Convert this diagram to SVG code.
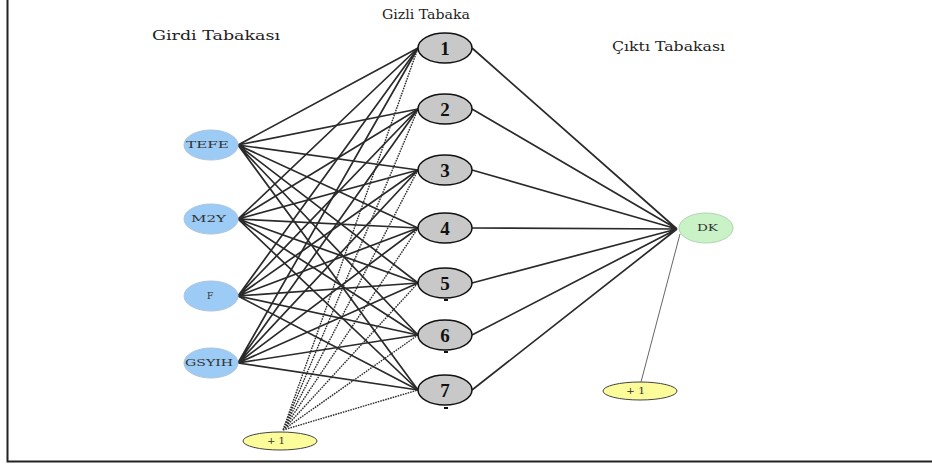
<svg xmlns="http://www.w3.org/2000/svg" width="932" height="466" viewBox="0 0 932 466">
<style>
.t{font-family:"DejaVu Serif","Liberation Serif",serif;fill:#222}
.lay{font-size:13px}
.in{font-size:9px;fill:#333}
.hid{font-family:"Liberation Serif","Times New Roman",serif;font-size:19px;font-weight:bold;fill:#111}
.e{stroke:#2a2a2a;stroke-width:1.7;fill:none}
.b{stroke:#2a2a2a;stroke-width:1.4;fill:none;stroke-dasharray:1.6 1}
.bo{stroke:#555;stroke-width:0.9;fill:none}
.inN{fill:#9ccbf5;stroke:#a9c4dc;stroke-width:1}
.hN{fill:#c8c8c8;stroke:#111;stroke-width:1.5}
.oN{fill:#c9f2c6;stroke:#b0d4ad;stroke-width:1}
.bN{fill:#fcfc9a;stroke:#444;stroke-width:1}
</style>
<rect width="932" height="466" fill="#fff"/>
<path d="M7.5 0 V461.5 H932" stroke="#222" stroke-width="2" fill="none"/>
<text class="t lay" x="382" y="19" textLength="88" lengthAdjust="spacingAndGlyphs">Gizli Tabaka</text>
<text class="t lay" x="152" y="40" textLength="128" lengthAdjust="spacingAndGlyphs">Girdi Tabakası</text>
<text class="t lay" x="612" y="51" textLength="113" lengthAdjust="spacingAndGlyphs">Çıktı Tabakası</text>
<g id="connectors">
<g class="e">
<path d="M238 145L418 48M238 145L418 109M238 145L418 170M238 145L418 228M238 145L418 283M238 145L418 335M238 145L418 390"/>
<path d="M238 219L418 48M238 219L418 109M238 219L418 170M238 219L418 228M238 219L418 283M238 219L418 335M238 219L418 390"/>
<path d="M238 296L418 48M238 296L418 109M238 296L418 170M238 296L418 228M238 296L418 283M238 296L418 335M238 296L418 390"/>
<path d="M238 363L418 48M238 363L418 109M238 363L418 170M238 363L418 228M238 363L418 283M238 363L418 335M238 363L418 390"/>
<path d="M472 48L677 229M472 109L677 229M472 170L677 229M472 228L677 229M472 283L677 229M472 335L677 229M472 390L677 229"/>
</g>
<g class="b">
<path d="M283 430L418 48M283 430L418 109M283 430L418 170M283 430L418 228M283 430L418 283M283 430L418 335M283 430L418 390"/>
</g>
<path class="bo" d="M641 382L680 234"/>
</g>
<g id="in-tefe"><ellipse class="inN" cx="211" cy="145" rx="27" ry="15"/><text class="t in" x="186" y="148" textLength="43" lengthAdjust="spacingAndGlyphs">TEFE</text></g>
<g id="in-m2y"><ellipse class="inN" cx="211" cy="219" rx="27" ry="15"/><text class="t in" x="191" y="222" textLength="35" lengthAdjust="spacingAndGlyphs">M2Y</text></g>
<g id="in-f"><ellipse class="inN" cx="211" cy="296" rx="27" ry="15"/><text class="t in" x="210" y="299" text-anchor="middle">F</text></g>
<g id="in-gsyih"><ellipse class="inN" cx="211" cy="363" rx="27" ry="15"/><text class="t in" x="185" y="366" textLength="48" lengthAdjust="spacingAndGlyphs">GSYIH</text></g>
<g id="bias-in"><ellipse class="bN" cx="280" cy="441" rx="37" ry="9"/><text class="t in" x="267" y="444" textLength="18" lengthAdjust="spacingAndGlyphs">+ 1</text></g>
<g id="h1"><ellipse class="hN" cx="445" cy="48" rx="27" ry="15"/><text class="t hid" x="445" y="55" text-anchor="middle">1</text></g>
<g id="h2"><ellipse class="hN" cx="445" cy="109" rx="27" ry="15"/><text class="t hid" x="445" y="116" text-anchor="middle">2</text></g>
<g id="h3"><ellipse class="hN" cx="445" cy="170" rx="27" ry="15"/><text class="t hid" x="445" y="177" text-anchor="middle">3</text></g>
<g id="h4"><ellipse class="hN" cx="445" cy="228" rx="27" ry="15"/><text class="t hid" x="445" y="235" text-anchor="middle">4</text></g>
<g id="h5"><ellipse class="hN" cx="445" cy="283" rx="27" ry="15"/><text class="t hid" x="445" y="290" text-anchor="middle">5</text><path d="M444 300h4" stroke="#111" stroke-width="2"/></g>
<g id="h6"><ellipse class="hN" cx="445" cy="335" rx="27" ry="15"/><text class="t hid" x="445" y="342" text-anchor="middle">6</text><path d="M444 352h4" stroke="#111" stroke-width="2"/></g>
<g id="h7"><ellipse class="hN" cx="445" cy="390" rx="27" ry="15"/><text class="t hid" x="445" y="397" text-anchor="middle">7</text><path d="M444 408h4" stroke="#111" stroke-width="2"/></g>
<g id="out-dk"><ellipse class="oN" cx="706" cy="228" rx="27" ry="15"/><text class="t in" x="697" y="231" textLength="21" lengthAdjust="spacingAndGlyphs">DK</text></g>
<g id="bias-out"><ellipse class="bN" cx="640" cy="391" rx="37" ry="9"/><text class="t in" x="626" y="394" textLength="19" lengthAdjust="spacingAndGlyphs">+ 1</text></g>
</svg>
